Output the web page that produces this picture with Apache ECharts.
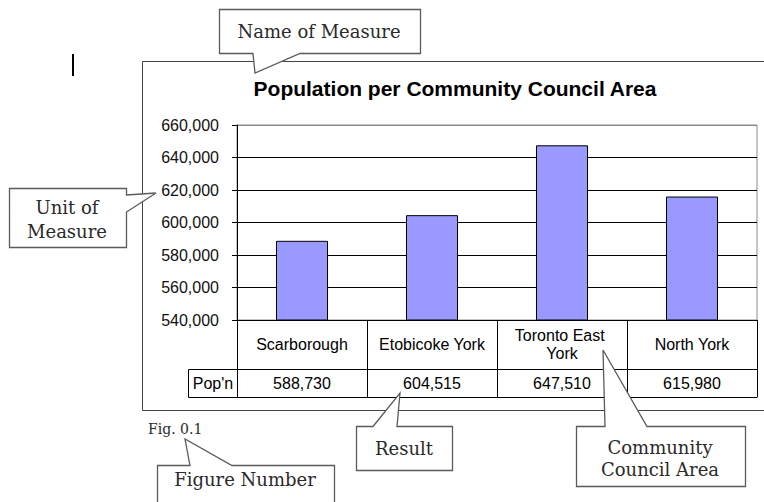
<!DOCTYPE html>
<html>
<head>
<meta charset="utf-8">
<script src="https://cdn.jsdelivr.net/npm/echarts@6/dist/echarts.min.js"></script>
<style>
  html, body { margin: 0; padding: 0; background: #fff; }
  #chart { width: 764px; height: 502px; }
</style>
</head>
<body>
<div id="chart"></div>
<script>
// Community council areas and their population
const categories = ['Scarborough', 'Etobicoke York', 'Toronto East York', 'North York'];
const population = [588730, 604515, 647510, 615980];
const rowHeader = "Pop'n";
const chartTitle = 'Population per Community Council Area';
const axisMin = 540000;
const axisMax = 660000;
const axisStep = 20000;

// Callout annotations describing the parts of the figure
const figureLabel = 'Fig. 0.1';
const calloutNames = ['Name of Measure', 'Unit of\nMeasure', 'Result', 'Community\nCouncil Area', 'Figure Number'];

const SANS = 'Liberation Sans, Arial, sans-serif';
const SERIF = 'DejaVu Serif, serif';
const fmt = v => Number(v).toLocaleString('en-US');

// plot geometry
const G = { left: 237, right: 757, top: 125, bottom: 320 };
const ROW1 = 49;   // category-name row height
const ROW2 = 28;   // value row height

const chart = echarts.init(document.getElementById('chart'), null, { renderer: 'svg' });

function callout(points, z) {
  return {
    type: 'polygon', z: z || 100,
    shape: { points: points },
    style: { fill: '#fff', stroke: '#5a5a5a', lineWidth: 1.3 }
  };
}
function calloutText(x, y, text, lh) {
  return {
    type: 'text', z: 101, x: x, y: y,
    style: {
      text: text, fill: '#2a2a2a', font: '18px ' + SERIF,
      align: 'center', verticalAlign: 'middle', lineHeight: lh || 22
    }
  };
}

const option = {
  animation: false,
  backgroundColor: '#fff',
  grid: {
    left: G.left, top: G.top, right: 764 - G.right, bottom: 502 - G.bottom,
    show: true, borderColor: '#8a8a8a', borderWidth: 1, backgroundColor: 'transparent'
  },
  xAxis: [
    {
      type: 'category', data: categories, position: 'bottom',
      axisLine: { lineStyle: { color: '#000', width: 1 } },
      axisTick: { show: true, interval: 0, length: ROW1 + ROW2, alignWithLabel: false, lineStyle: { color: '#000' } },
      axisLabel: {
        interval: 0, margin: 24, verticalAlign: 'middle', align: 'center',
        color: '#000', fontFamily: SANS, fontSize: 16, lineHeight: 18,
        width: 118, overflow: 'break'
      },
      splitLine: { show: false }
    },
    {
      type: 'category', data: categories, position: 'bottom', offset: ROW1,
      axisLine: { lineStyle: { color: '#000', width: 1 } },
      axisTick: { show: false },
      axisLabel: {
        interval: 0, margin: 14, verticalAlign: 'middle', align: 'center',
        color: '#000', fontFamily: SANS, fontSize: 16,
        formatter: (v, i) => fmt(population[i])
      }
    },
    {
      type: 'category', data: categories, position: 'bottom', offset: ROW1 + ROW2,
      axisLine: { lineStyle: { color: '#000', width: 1 } },
      axisTick: { show: false },
      axisLabel: { show: false }
    }
  ],
  yAxis: {
    type: 'value', min: axisMin, max: axisMax, interval: axisStep,
    axisLine: { show: true, lineStyle: { color: '#000', width: 1 } },
    axisTick: { show: true, length: 5, lineStyle: { color: '#000' } },
    axisLabel: { margin: 18, color: '#111', fontFamily: SANS, fontSize: 16, formatter: fmt },
    splitLine: { show: true, lineStyle: { color: ['#000', '#000', '#000', '#000', '#000', '#000', '#8a8a8a'], width: 1 } }
  },
  series: [{
    type: 'bar', xAxisIndex: 0, data: population, barWidth: 52,
    itemStyle: { color: '#9999ff', borderColor: '#000', borderWidth: 1 }
  }],
  graphic: [
    // chart frame (runs off the right edge)
    { type: 'rect', z: -1, shape: { x: 142.5, y: 61.5, width: 700, height: 349 },
      style: { fill: 'none', stroke: '#444', lineWidth: 1 } },
    // text cursor mark
    { type: 'rect', shape: { x: 72, y: 54, width: 2, height: 22 }, style: { fill: '#000' } },
    // title
    { type: 'text', x: 455, y: 88,
      style: { text: chartTitle, fill: '#000', font: 'bold 21px ' + SANS, align: 'center', verticalAlign: 'middle' } },
    // row header cell of the data table
    { type: 'rect', shape: { x: 188.5, y: G.bottom + ROW1 + 0.5, width: G.left - 188, height: ROW2 },
      style: { fill: 'none', stroke: '#000', lineWidth: 1 } },
    { type: 'text', x: 213, y: G.bottom + ROW1 + ROW2 / 2,
      style: { text: rowHeader, fill: '#000', font: '16px ' + SANS, align: 'center', verticalAlign: 'middle' } },
    // figure number
    { type: 'text', x: 148, y: 429,
      style: { text: figureLabel, fill: '#2a2a2a', font: '14px ' + SERIF, align: 'left', verticalAlign: 'middle' } },

    // callouts
    callout([[219.5, 9.5], [420.5, 9.5], [420.5, 53.5], [300, 53.5], [255, 73], [253, 53.5], [219.5, 53.5]]),
    calloutText(319, 31, calloutNames[0]),

    callout([[9.5, 188.5], [126.5, 188.5], [126.5, 195], [156, 193], [126.5, 212], [126.5, 247.5], [9.5, 247.5]]),
    calloutText(67, 219, calloutNames[1], 24),

    callout([[356.5, 426.5], [373, 426.5], [400, 393], [397, 426.5], [452.5, 426.5], [452.5, 470.5], [356.5, 470.5]]),
    calloutText(404, 448, calloutNames[2]),

    callout([[576.5, 426.5], [605, 426.5], [603, 350], [647, 426.5], [745.5, 426.5], [745.5, 486.5], [576.5, 486.5]]),
    calloutText(660, 458, calloutNames[3], 22),

    callout([[157.5, 465.5], [190, 465.5], [185, 439], [232, 465.5], [334.5, 465.5], [334.5, 510], [157.5, 510]]),
    calloutText(245, 479, calloutNames[4])
  ]
};

chart.setOption(option);
</script>
</body>
</html>
